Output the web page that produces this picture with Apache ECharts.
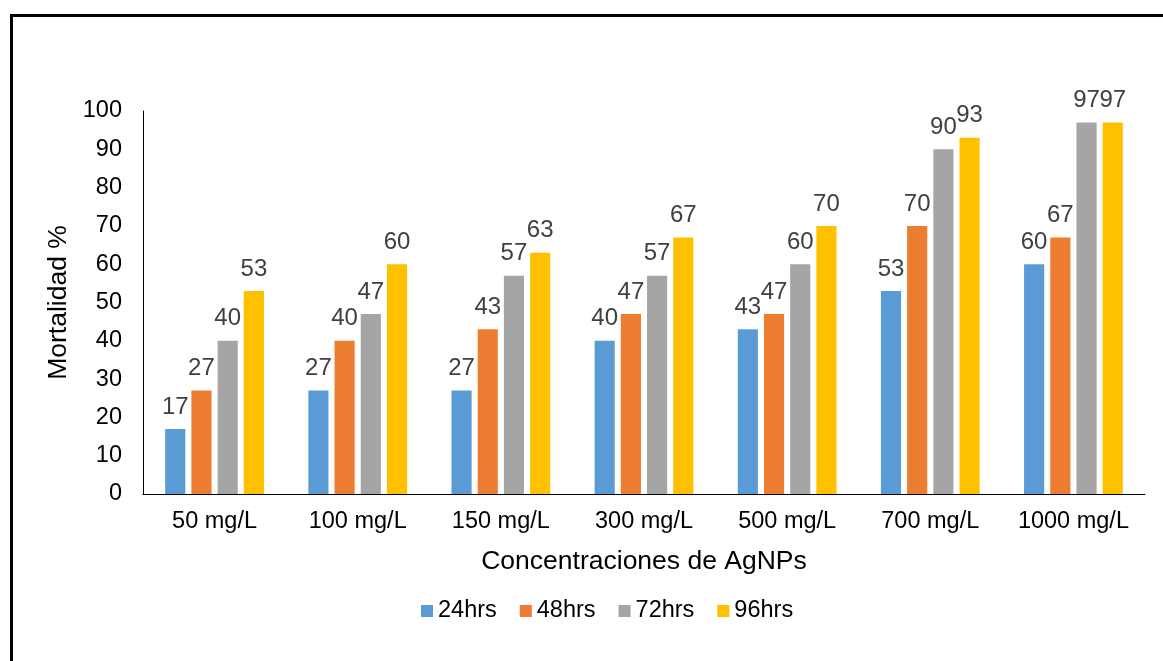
<!DOCTYPE html>
<html>
<head>
<meta charset="utf-8">
<title>Mortalidad por concentración de AgNPs</title>
<script src="https://cdn.jsdelivr.net/npm/echarts@6/dist/echarts.min.js"></script>
<style>
  html, body { margin: 0; padding: 0; background: #ffffff; }
  #chart { width: 1163px; height: 661px; }
</style>
</head>
<body>
<div id="chart"></div>
<script>
// Concentraciones probadas (categorías del eje X)
const categories = ['50 mg/L', '100 mg/L', '150 mg/L', '300 mg/L', '500 mg/L', '700 mg/L', '1000 mg/L'];

// Mortalidad (%) por tiempo de exposición
const seriesNames = ['24hrs', '48hrs', '72hrs', '96hrs'];
const mort24 = [17, 27, 27, 40, 43, 53, 60];
const mort48 = [27, 40, 43, 47, 47, 70, 67];
const mort72 = [40, 47, 57, 57, 60, 90, 97];
const mort96 = [53, 60, 63, 67, 70, 93, 97];

// Marcas del eje Y
const yMin = 0, yMax = 100, yStep = 10;

const colors = ['#5B9BD5', '#ED7D31', '#A5A5A5', '#FFC000'];
const FONT = '"Liberation Sans", Arial, sans-serif';

const chart = echarts.init(document.getElementById('chart'), null, { renderer: 'canvas' });

const values = [mort24, mort48, mort72, mort96];
const series = seriesNames.map((name, i) => ({
  name,
  type: 'bar',
  data: values[i],
  itemStyle: { color: colors[i] },
  barGap: '30%',
  barCategoryGap: '31%',
  label: {
    show: true,
    position: 'top',
    distance: 10,
    color: '#404040',
    fontFamily: FONT,
    fontSize: 24
  }
}));

chart.setOption({
  animation: false,
  color: colors,
  textStyle: { fontFamily: FONT },
  graphic: [{
    type: 'rect',
    shape: { x: 11.5, y: 15.5, width: 1300, height: 800 },
    style: { fill: 'none', stroke: '#000', lineWidth: 3 },
    silent: true
  }],
  grid: { left: 143, right: 18, top: 111, bottom: 167, containLabel: false },
  legend: {
    data: seriesNames,
    top: 599,
    left: 421,
    padding: 0,
    itemWidth: 12,
    itemHeight: 12,
    itemGap: 23,
    icon: 'rect',
    textStyle: { color: '#000', fontSize: 23.5, fontFamily: FONT }
  },
  xAxis: {
    type: 'category',
    data: categories,
    name: 'Concentraciones de AgNPs',
    nameLocation: 'middle',
    nameGap: 54,
    nameTextStyle: { color: '#000', fontSize: 26.5, fontFamily: FONT },
    axisLine: { lineStyle: { color: '#000', width: 1 } },
    axisTick: { show: false },
    axisLabel: { color: '#000', fontSize: 23.5, fontFamily: FONT, margin: 16, interval: 0 }
  },
  yAxis: {
    type: 'value',
    min: yMin,
    max: yMax,
    interval: yStep,
    name: 'Mortalidad %',
    nameLocation: 'middle',
    nameGap: 64,
    nameTextStyle: { color: '#000', fontSize: 26.5, fontFamily: FONT },
    axisLine: { show: true, lineStyle: { color: '#000', width: 1 } },
    axisTick: { show: false },
    splitLine: { show: false },
    axisLabel: { color: '#000', fontSize: 23.5, fontFamily: FONT, margin: 21 }
  },
  series
});
</script>
</body>
</html>
